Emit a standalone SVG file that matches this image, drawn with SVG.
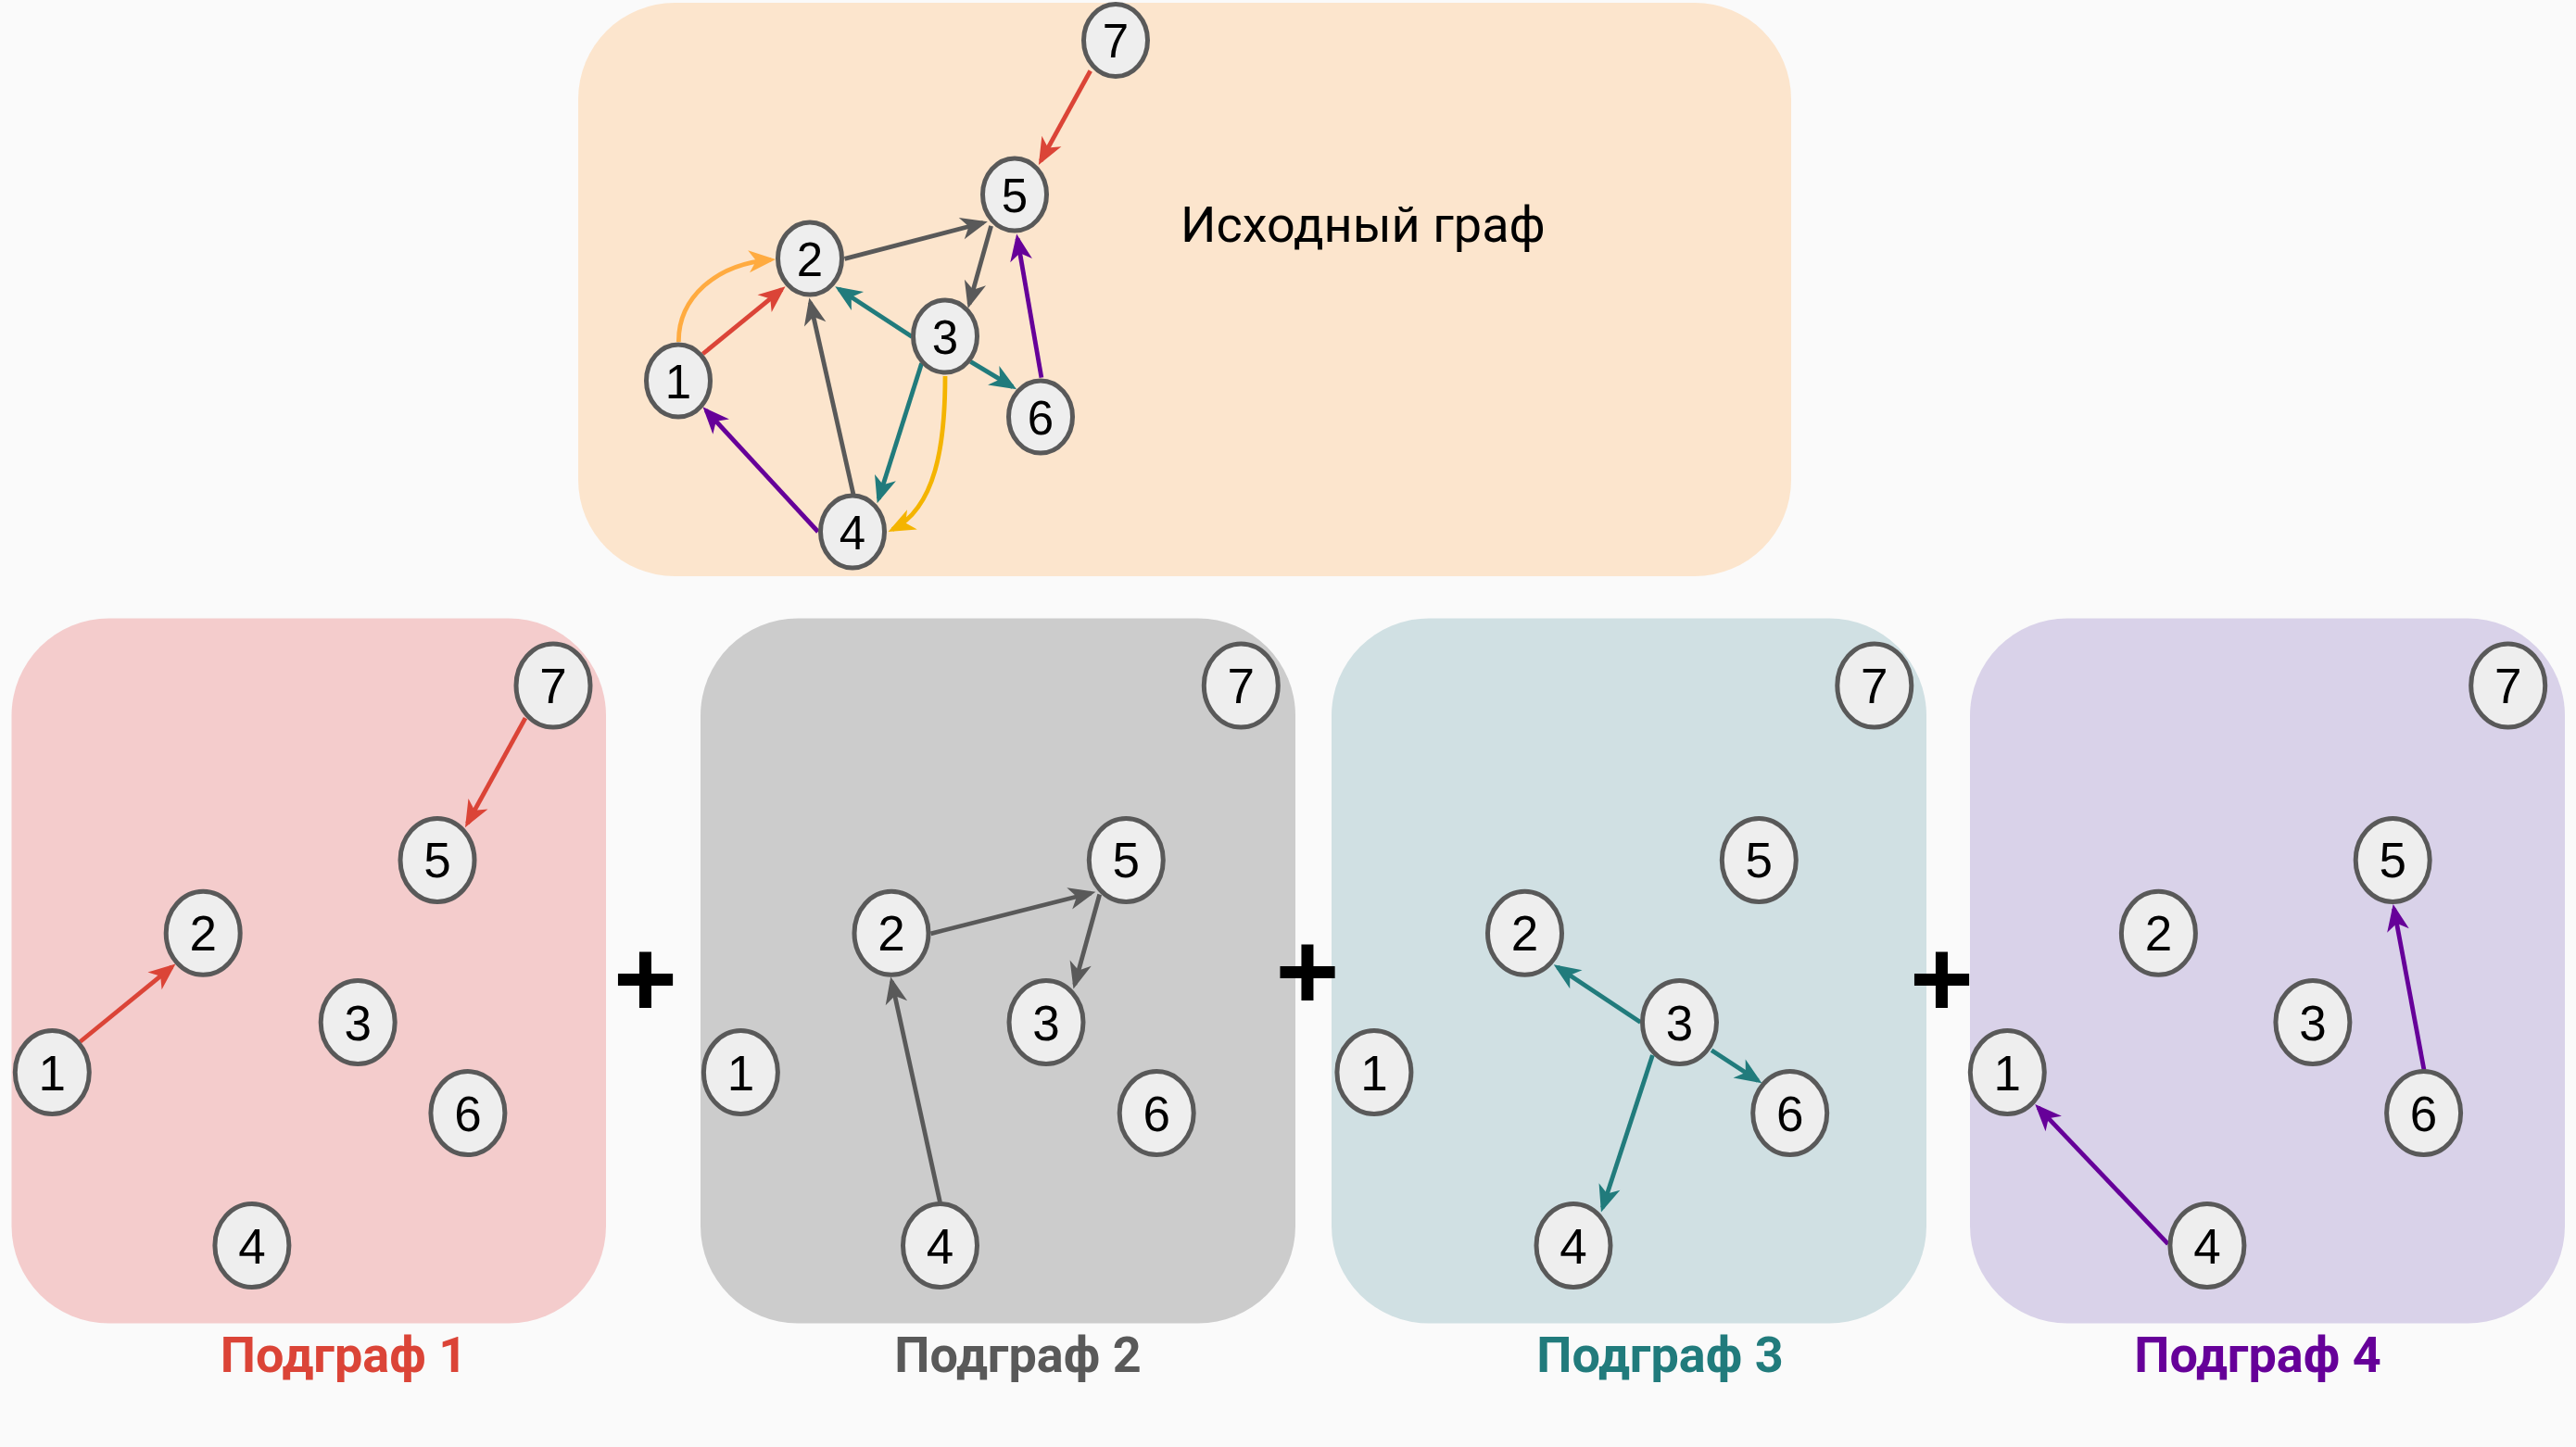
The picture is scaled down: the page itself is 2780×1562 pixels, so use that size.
<svg xmlns="http://www.w3.org/2000/svg" width="2780" height="1562" viewBox="0 0 2780 1562">
<style>
.bg{fill:#FAFAFA}
.nd ellipse{fill:#EEEEEE;stroke:#595959;stroke-width:5}
.nd text{font-family:"Liberation Sans",Arial,sans-serif;fill:#000;text-anchor:middle}
.top text{font-size:51px}
.bot text{font-size:53px}
.e{fill:none;stroke-width:4.8}
.lbl{font-family:Roboto,"Liberation Sans",sans-serif;font-weight:bold;font-size:54px;text-anchor:middle}
.plus{font-family:"Liberation Sans",Arial,sans-serif;font-weight:bold;font-size:118px;text-anchor:middle;fill:#000}
</style>
<defs>
<marker id="aR" markerUnits="userSpaceOnUse" viewBox="-30 -13 31 26" markerWidth="31" markerHeight="26" refX="-5" refY="0" orient="auto" overflow="visible"><path d="M0,0 L-29,-12 L-21,0 L-29,12 Z" fill="#DB4437"/></marker>
<marker id="aO" markerUnits="userSpaceOnUse" viewBox="-30 -13 31 26" markerWidth="31" markerHeight="26" refX="-5" refY="0" orient="auto" overflow="visible"><path d="M0,0 L-29,-12 L-21,0 L-29,12 Z" fill="#FFAB40"/></marker>
<marker id="aY" markerUnits="userSpaceOnUse" viewBox="-30 -13 31 26" markerWidth="31" markerHeight="26" refX="-5" refY="0" orient="auto" overflow="visible"><path d="M0,0 L-29,-12 L-21,0 L-29,12 Z" fill="#F4B400"/></marker>
<marker id="aG" markerUnits="userSpaceOnUse" viewBox="-30 -13 31 26" markerWidth="31" markerHeight="26" refX="-5" refY="0" orient="auto" overflow="visible"><path d="M0,0 L-29,-12 L-21,0 L-29,12 Z" fill="#595959"/></marker>
<marker id="aT" markerUnits="userSpaceOnUse" viewBox="-30 -13 31 26" markerWidth="31" markerHeight="26" refX="-5" refY="0" orient="auto" overflow="visible"><path d="M0,0 L-29,-12 L-21,0 L-29,12 Z" fill="#217B7C"/></marker>
<marker id="aP" markerUnits="userSpaceOnUse" viewBox="-30 -13 31 26" markerWidth="31" markerHeight="26" refX="-5" refY="0" orient="auto" overflow="visible"><path d="M0,0 L-29,-12 L-21,0 L-29,12 Z" fill="#660099"/></marker>
</defs>
<rect class="bg" x="0" y="0" width="2780" height="1562"/>

<g id="panels">
<rect id="panel-source" x="624" y="3" width="1309" height="619" rx="104" ry="104" fill="#FCE5CD"/>
<rect id="panel-1" x="12.5" y="667.5" width="641.5" height="761" rx="105" ry="105" fill="#F4CCCC"/>
<rect id="panel-2" x="756" y="667.5" width="642" height="761" rx="105" ry="105" fill="#CCCCCC"/>
<rect id="panel-3" x="1437" y="667.5" width="642" height="761" rx="105" ry="105" fill="#D0E0E3"/>
<rect id="panel-4" x="2126" y="667.5" width="642" height="761" rx="105" ry="105" fill="#D9D2E9"/>
</g>

<g id="labels">
<text x="1274" y="261" font-family="Roboto,'Liberation Sans',sans-serif" font-size="54" fill="#000">Исходный граф</text>
<text class="lbl" x="371" y="1481" fill="#DB4437">Подграф 1</text>
<text class="lbl" x="1098.5" y="1481" fill="#595959">Подграф 2</text>
<text class="lbl" x="1791.5" y="1481" fill="#217B7C">Подграф 3</text>
<text class="lbl" x="2436.5" y="1481" fill="#660099">Подграф 4</text>
<text class="plus" x="696.5" y="1097">+</text>
<text class="plus" x="1411" y="1089">+</text>
<text class="plus" x="2095.5" y="1097">+</text>
</g>

<g id="connectors">
<!-- source graph -->
<path class="e" stroke="#DB4437" marker-end="url(#aR)" d="M1176.7,76.5 L1123.3,173.6"/>
<path class="e" stroke="#595959" marker-end="url(#aG)" d="M911.5,279.4 L1061,240.5"/>
<path class="e" stroke="#595959" marker-end="url(#aG)" d="M1069.6,243.8 L1046,328.2"/>
<path class="e" stroke="#217B7C" marker-end="url(#aT)" d="M984.2,363.6 L905.4,311.9"/>
<path class="e" stroke="#217B7C" marker-end="url(#aT)" d="M1047.4,390.4 L1092.8,417.6"/>
<path class="e" stroke="#217B7C" marker-end="url(#aT)" d="M994.6,392.3 L948.2,538.6"/>
<path class="e" stroke="#F4B400" marker-end="url(#aY)" d="M1020,406 C1020,480 1010,548 963,571.7"/>
<path class="e" stroke="#FFAB40" marker-end="url(#aO)" d="M732.4,369 C732,322 772,285 832,280.3"/>
<path class="e" stroke="#DB4437" marker-end="url(#aR)" d="M758.5,382 L843.7,312.4"/>
<path class="e" stroke="#595959" marker-end="url(#aG)" d="M921,533.9 L874.4,326.4"/>
<path class="e" stroke="#660099" marker-end="url(#aP)" d="M882.8,574 L761.9,443"/>
<path class="e" stroke="#660099" marker-end="url(#aP)" d="M1123.9,407.6 L1098,257.5"/>
<!-- subgraph 1 -->
<path class="e" stroke="#DB4437" marker-end="url(#aR)" d="M567,775.2 L504.4,888.8"/>
<path class="e" stroke="#DB4437" marker-end="url(#aR)" d="M86.5,1124.5 L185.6,1043.7"/>
<!-- subgraph 2 -->
<path class="e" stroke="#595959" marker-end="url(#aG)" d="M1004.5,1007.8 L1177.5,964"/>
<path class="e" stroke="#595959" marker-end="url(#aG)" d="M1186.7,965.5 L1159.8,1062.8"/>
<path class="e" stroke="#595959" marker-end="url(#aG)" d="M1014.5,1297.9 L962.3,1059.3"/>
<!-- subgraph 3 -->
<path class="e" stroke="#217B7C" marker-end="url(#aT)" d="M1770.4,1103.6 L1680.9,1044"/>
<path class="e" stroke="#217B7C" marker-end="url(#aT)" d="M1847.1,1133.8 L1897.2,1166.6"/>
<path class="e" stroke="#217B7C" marker-end="url(#aT)" d="M1783.4,1139.1 L1729.5,1303.7"/>
<!-- subgraph 4 -->
<path class="e" stroke="#660099" marker-end="url(#aP)" d="M2339.8,1342.9 L2199.7,1195.6"/>
<path class="e" stroke="#660099" marker-end="url(#aP)" d="M2616,1155 L2583.6,980.9"/>
</g>

<g id="source-nodes" class="top">
<g id="s-7" class="nd"><ellipse cx="1204" cy="43.5" rx="34.5" ry="39"/><text x="1204" y="62">7</text></g>
<g id="s-5" class="nd"><ellipse cx="1095" cy="210" rx="34.5" ry="39"/><text x="1095" y="228.5">5</text></g>
<g id="s-2" class="nd"><ellipse cx="874" cy="279" rx="34.5" ry="39"/><text x="874" y="297.5">2</text></g>
<g id="s-3" class="nd"><ellipse cx="1020" cy="363" rx="34.5" ry="39"/><text x="1020" y="381.5">3</text></g>
<g id="s-1" class="nd"><ellipse cx="732" cy="411" rx="34.5" ry="39"/><text x="732" y="429.5">1</text></g>
<g id="s-6" class="nd"><ellipse cx="1123" cy="450" rx="34.5" ry="39"/><text x="1123" y="468.5">6</text></g>
<g id="s-4" class="nd"><ellipse cx="920" cy="574" rx="34.5" ry="39"/><text x="920" y="592.5">4</text></g>
</g>

<g id="subgraph1-nodes" class="bot">
<g id="p1-7" class="nd"><ellipse cx="597" cy="740" rx="40" ry="45"/><text x="597" y="759">7</text></g>
<g id="p1-5" class="nd"><ellipse cx="472" cy="928.4" rx="40" ry="45"/><text x="472" y="947.4">5</text></g>
<g id="p1-2" class="nd"><ellipse cx="219.2" cy="1007.3" rx="40" ry="45"/><text x="219.2" y="1026.3">2</text></g>
<g id="p1-3" class="nd"><ellipse cx="386.2" cy="1103.6" rx="40" ry="45"/><text x="386.2" y="1122.6">3</text></g>
<g id="p1-1" class="nd"><ellipse cx="56.3" cy="1157.6" rx="40" ry="45"/><text x="56.3" y="1176.6">1</text></g>
<g id="p1-6" class="nd"><ellipse cx="504.9" cy="1201.6" rx="40" ry="45"/><text x="504.9" y="1220.6">6</text></g>
<g id="p1-4" class="nd"><ellipse cx="271.9" cy="1344.5" rx="40" ry="45"/><text x="271.9" y="1363.5">4</text></g>
</g>

<g id="subgraph2-nodes" class="bot">
<g id="p2-7" class="nd"><ellipse cx="1339.3" cy="740" rx="40" ry="45"/><text x="1339.3" y="759">7</text></g>
<g id="p2-5" class="nd"><ellipse cx="1215.3" cy="928.4" rx="40" ry="45"/><text x="1215.3" y="947.4">5</text></g>
<g id="p2-2" class="nd"><ellipse cx="962" cy="1007.3" rx="40" ry="45"/><text x="962" y="1026.3">2</text></g>
<g id="p2-3" class="nd"><ellipse cx="1129" cy="1103.6" rx="40" ry="45"/><text x="1129" y="1122.6">3</text></g>
<g id="p2-1" class="nd"><ellipse cx="799.4" cy="1157.6" rx="40" ry="45"/><text x="799.4" y="1176.6">1</text></g>
<g id="p2-6" class="nd"><ellipse cx="1248.2" cy="1201.6" rx="40" ry="45"/><text x="1248.2" y="1220.6">6</text></g>
<g id="p2-4" class="nd"><ellipse cx="1014.5" cy="1344.5" rx="40" ry="45"/><text x="1014.5" y="1363.5">4</text></g>
</g>

<g id="subgraph3-nodes" class="bot">
<g id="p3-7" class="nd"><ellipse cx="2022.8" cy="740" rx="40" ry="45"/><text x="2022.8" y="759">7</text></g>
<g id="p3-5" class="nd"><ellipse cx="1898.3" cy="928.4" rx="40" ry="45"/><text x="1898.3" y="947.4">5</text></g>
<g id="p3-2" class="nd"><ellipse cx="1645.5" cy="1007.3" rx="40" ry="45"/><text x="1645.5" y="1026.3">2</text></g>
<g id="p3-3" class="nd"><ellipse cx="1812.5" cy="1103.6" rx="40" ry="45"/><text x="1812.5" y="1122.6">3</text></g>
<g id="p3-1" class="nd"><ellipse cx="1482.9" cy="1157.6" rx="40" ry="45"/><text x="1482.9" y="1176.6">1</text></g>
<g id="p3-6" class="nd"><ellipse cx="1931.7" cy="1201.6" rx="40" ry="45"/><text x="1931.7" y="1220.6">6</text></g>
<g id="p3-4" class="nd"><ellipse cx="1698" cy="1344.5" rx="40" ry="45"/><text x="1698" y="1363.5">4</text></g>
</g>

<g id="subgraph4-nodes" class="bot">
<g id="p4-7" class="nd"><ellipse cx="2706.7" cy="740" rx="40" ry="45"/><text x="2706.7" y="759">7</text></g>
<g id="p4-5" class="nd"><ellipse cx="2582.2" cy="928.4" rx="40" ry="45"/><text x="2582.2" y="947.4">5</text></g>
<g id="p4-2" class="nd"><ellipse cx="2329.4" cy="1007.3" rx="40" ry="45"/><text x="2329.4" y="1026.3">2</text></g>
<g id="p4-3" class="nd"><ellipse cx="2495.9" cy="1103.6" rx="40" ry="45"/><text x="2495.9" y="1122.6">3</text></g>
<g id="p4-1" class="nd"><ellipse cx="2166.3" cy="1157.6" rx="40" ry="45"/><text x="2166.3" y="1176.6">1</text></g>
<g id="p4-6" class="nd"><ellipse cx="2615.6" cy="1201.6" rx="40" ry="45"/><text x="2615.6" y="1220.6">6</text></g>
<g id="p4-4" class="nd"><ellipse cx="2381.9" cy="1344.5" rx="40" ry="45"/><text x="2381.9" y="1363.5">4</text></g>
</g>
</svg>
